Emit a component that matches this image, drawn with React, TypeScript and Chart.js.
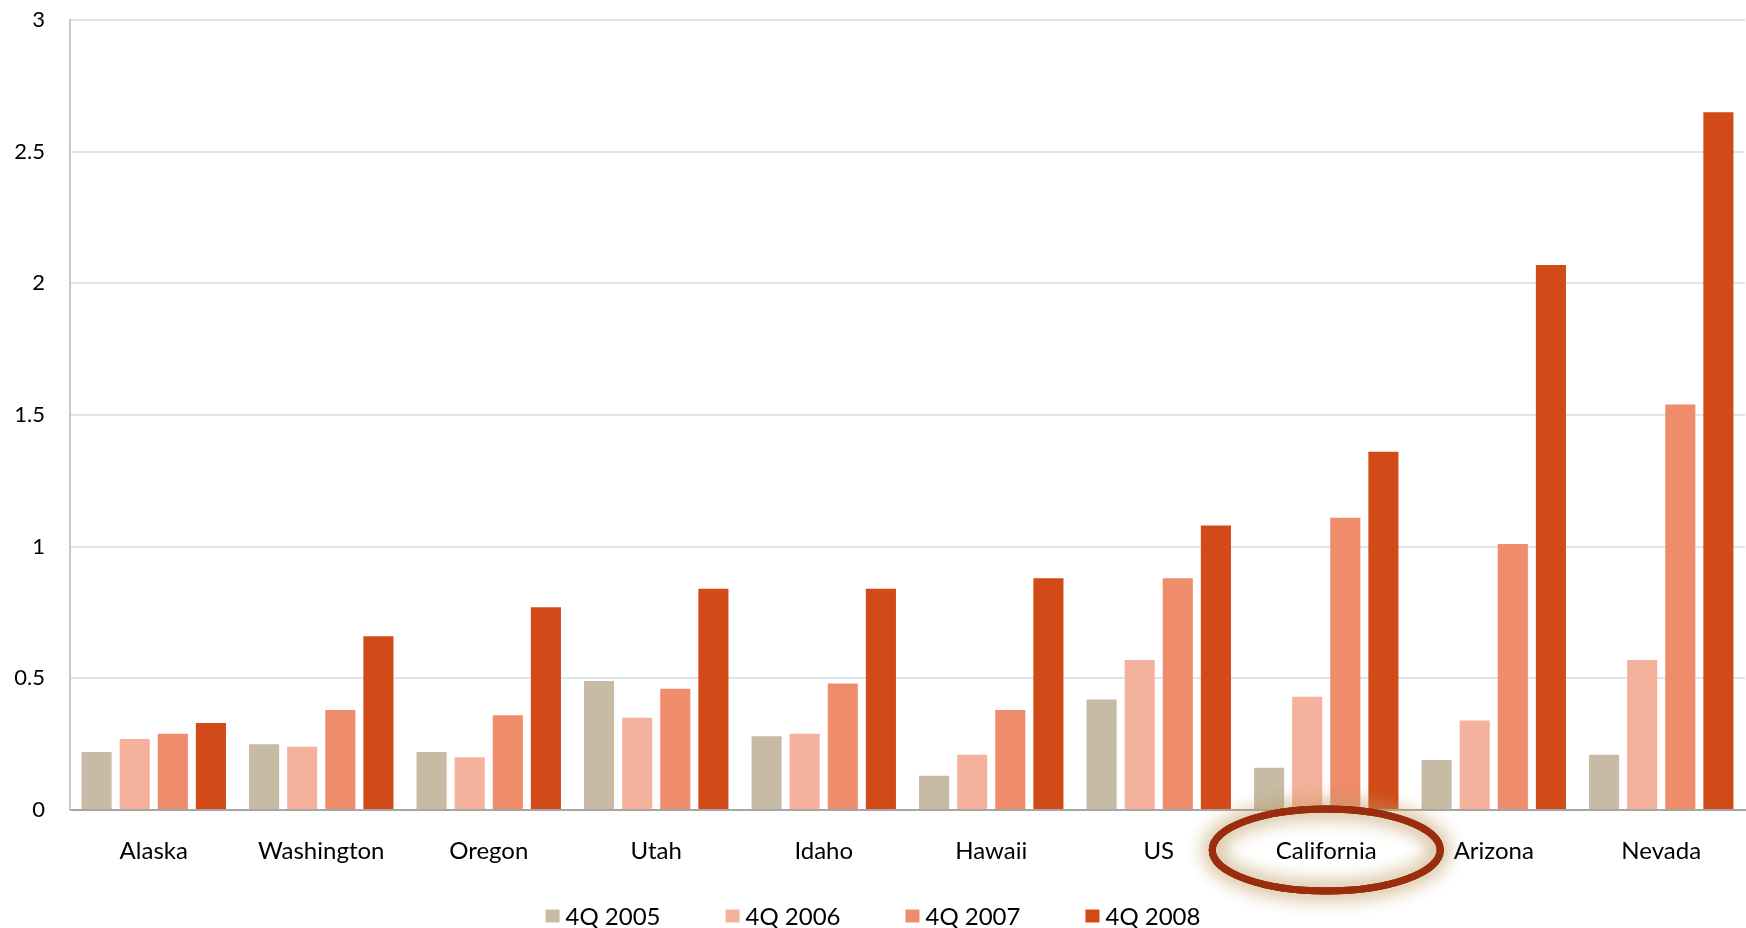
import React, { useEffect, useRef } from "react";
import { Chart, registerables } from "chart.js";

Chart.register(...registerables);

const states = ["Alaska", "Washington", "Oregon", "Utah", "Idaho", "Hawaii", "US", "California", "Arizona", "Nevada"];
const q2005 = [0.22, 0.25, 0.22, 0.49, 0.28, 0.13, 0.42, 0.16, 0.19, 0.21];
const q2006 = [0.27, 0.24, 0.2, 0.35, 0.29, 0.21, 0.57, 0.43, 0.34, 0.57];
const q2007 = [0.29, 0.38, 0.36, 0.46, 0.48, 0.38, 0.88, 1.11, 1.01, 1.54];
const q2008 = [0.33, 0.66, 0.77, 0.84, 0.84, 0.88, 1.08, 1.36, 2.07, 2.65];
const seriesNames = ["4Q 2005", "4Q 2006", "4Q 2007", "4Q 2008"];
const seriesColors = ["#C8BBA5", "#F4B29C", "#EF8C6C", "#D24A18"];
const highlighted = "California";

const FONT = "Lato, 'Noto Sans', sans-serif";

// Ring with a soft glow drawn around the highlighted category label
const highlightRing = {
  id: "highlightRing",
  afterDraw(chart: any) {
    const x = chart.scales.x;
    const idx = states.indexOf(highlighted);
    if (idx < 0) return;
    const cx = x.getPixelForValue(idx);
    const cy = chart.chartArea.bottom + 40;
    const ctx = chart.ctx;
    ctx.save();
    ctx.beginPath();
    ctx.ellipse(cx, cy, 114, 41, 0, 0, Math.PI * 2);
    ctx.lineWidth = 7;
    ctx.strokeStyle = "#9B2D0F";
    ctx.shadowColor = "rgba(190, 155, 95, 0.9)";
    ctx.shadowBlur = 20;
    ctx.stroke();
    ctx.stroke();
    ctx.shadowBlur = 0;
    ctx.stroke();
    ctx.restore();
  },
};

// Single-row legend centred under the axis labels
const bottomLegend = {
  id: "bottomLegend",
  afterDraw(chart: any) {
    const ctx = chart.ctx;
    const boxW = 14;
    const boxH = 13;
    const gap = 6;
    const itemGap = 65;
    const y = 916;
    ctx.save();
    ctx.font = `24px ${FONT}`;
    ctx.textBaseline = "middle";
    ctx.textAlign = "left";
    const items = chart.data.datasets.map((ds: any) => ({
      text: ds.label as string,
      color: ds.backgroundColor as string,
      w: boxW + gap + ctx.measureText(ds.label).width,
    }));
    const total = items.reduce((s: number, it: any) => s + it.w, 0) + itemGap * (items.length - 1);
    let x = (chart.width - total) / 2;
    for (const it of items) {
      ctx.fillStyle = it.color;
      ctx.fillRect(x, y - boxH / 2, boxW, boxH);
      ctx.fillStyle = "#000";
      ctx.fillText(it.text, x + boxW + gap, y + 1);
      x += it.w + itemGap;
    }
    ctx.restore();
  },
};

export default function App() {
  const ref = useRef<HTMLCanvasElement>(null);

  useEffect(() => {
    if (!ref.current) return;
    const series = [q2005, q2006, q2007, q2008];
    const chart = new Chart(ref.current, {
      type: "bar",
      data: {
        labels: states,
        datasets: series.map((d, i) => ({
          label: seriesNames[i],
          data: d,
          backgroundColor: seriesColors[i],
          borderWidth: 0,
          categoryPercentage: 0.91,
          barPercentage: 0.79,
        })),
      },
      options: {
        animation: false,
        responsive: false,
        maintainAspectRatio: false,
        layout: { padding: { top: 20, right: 1, left: 0, bottom: 0 } },
        plugins: {
          legend: { display: false },
          tooltip: { enabled: false },
        },
        scales: {
          x: {
            grid: { display: false, drawTicks: false },
            border: { color: "#A6A6A6", width: 2 },
            ticks: { font: { family: FONT, size: 24 }, color: "#000", padding: 27 },
            afterFit(scale: any) {
              scale.height = 118;
            },
          },
          y: {
            min: 0,
            max: 3,
            ticks: {
              stepSize: 0.5,
              font: { family: FONT, size: 22 },
              color: "#000",
              padding: 25,
              callback: (v: any) => String(Number(v)),
            },
            grid: { color: "#DCE4F0", lineWidth: 2, drawTicks: false },
            border: { color: "#C8C8C8", width: 2 },
            afterFit(scale: any) {
              scale.width = 70;
              scale.paddingTop = 0;
              scale.paddingBottom = 0;
            },
          },
        },
      },
      plugins: [highlightRing, bottomLegend],
    });
    return () => chart.destroy();
  }, []);

  return (
    <div style={{ position: "absolute", left: 0, top: 0, width: 1746, height: 928, overflow: "hidden", background: "#fff" }}>
      <canvas ref={ref} width={1746} height={928} style={{ display: "block" }} />
    </div>
  );
}
